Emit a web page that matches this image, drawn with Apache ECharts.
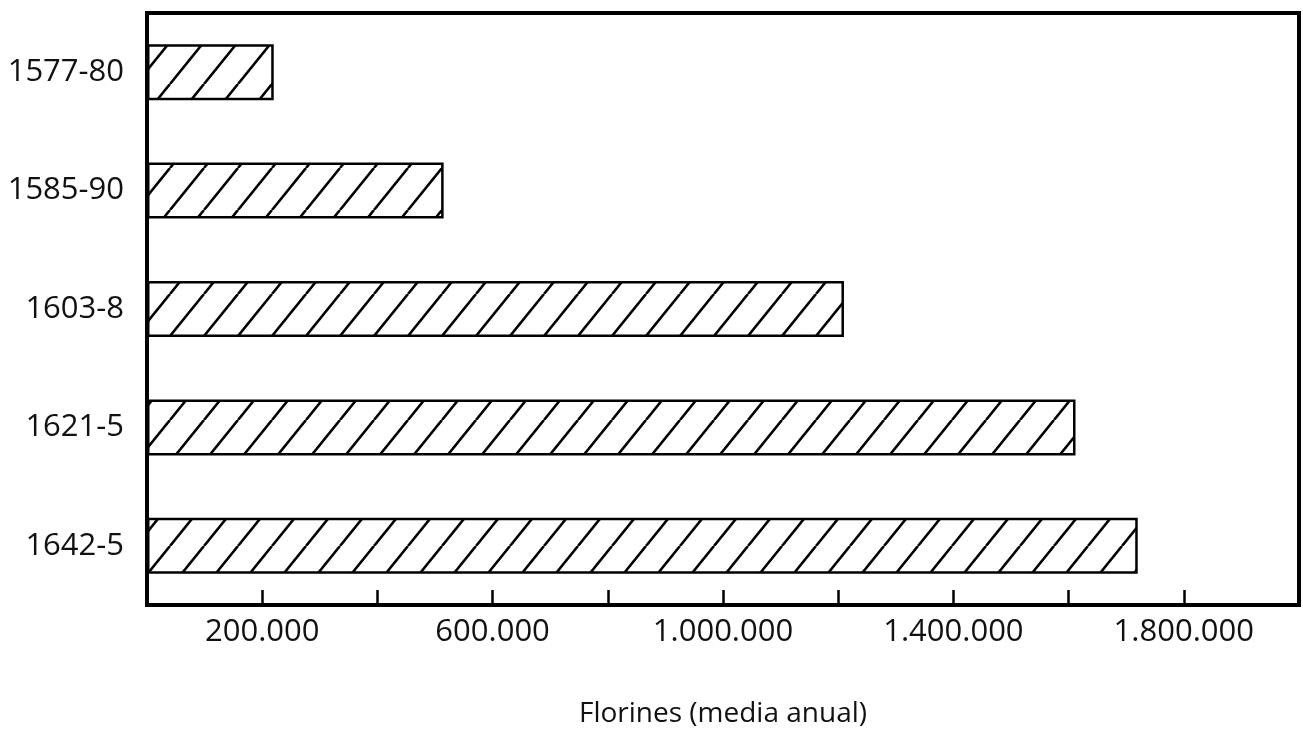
<!DOCTYPE html>
<html><head><meta charset="utf-8">
<script src="https://cdn.jsdelivr.net/npm/echarts@6/dist/echarts.min.js"></script>
<style>html,body{margin:0;padding:0;background:#fff}#c{width:1303px;height:736px}</style>
</head><body><div id="c"></div>
<script>
const categories = ['1577-80', '1585-90', '1603-8', '1621-5', '1642-5'];
const values = [220000, 515000, 1210000, 1612000, 1720000];
const labeledTicks = [200000, 600000, 1000000, 1400000, 1800000];
const axisName = 'Florines (media anual)';

function fmt(v) { return String(v).replace(/\B(?=(\d{3})+(?!\d))/g, '.'); }

function hatch() {
  const W = 34, H = 42;
  const c = document.createElement('canvas');
  c.width = W; c.height = H;
  const g = c.getContext('2d');
  g.fillStyle = '#fff'; g.fillRect(0, 0, W, H);
  g.strokeStyle = '#000'; g.lineWidth = 2.6;
  for (let k = -1; k <= 1; k++) {
    g.beginPath(); g.moveTo(k * W, H); g.lineTo(k * W + W, 0); g.stroke();
  }
  return c;
}

const FONT = 'Open Sans';
const chart = echarts.init(document.getElementById('c'), null, { renderer: 'canvas' });
chart.setOption({
  animation: false,
  backgroundColor: '#fff',
  grid: { left: 147, right: 4, top: 13, bottom: 131, show: true, borderColor: '#000', borderWidth: 4, backgroundColor: 'transparent' },
  xAxis: {
    type: 'value', min: 0, max: 2000000, interval: 200000,
    name: axisName, nameLocation: 'middle', nameGap: 95,
    nameTextStyle: { color: '#111', fontSize: 28, fontFamily: FONT },
    axisLine: { show: true, lineStyle: { color: '#000', width: 4 } },
    axisTick: { show: true, inside: true, length: 15, lineStyle: { color: '#000', width: 2.5 } },
    splitLine: { show: false },
    axisLabel: {
      margin: 12, color: '#111', fontSize: 31, fontFamily: FONT,
      formatter: v => labeledTicks.includes(v) ? fmt(v) : ''
    }
  },
  yAxis: {
    type: 'category', data: categories, inverse: true,
    axisLine: { show: true, lineStyle: { color: '#000', width: 4 } },
    axisTick: { show: false },
    axisLabel: { margin: 23, color: '#111', fontSize: 31, fontFamily: FONT }
  },
  series: [{
    type: 'bar', data: values, barWidth: 56,
    itemStyle: { color: { image: hatch(), repeat: 'repeat' }, borderColor: '#000', borderWidth: 2.5 }
  }]
});
</script>
</body></html>
